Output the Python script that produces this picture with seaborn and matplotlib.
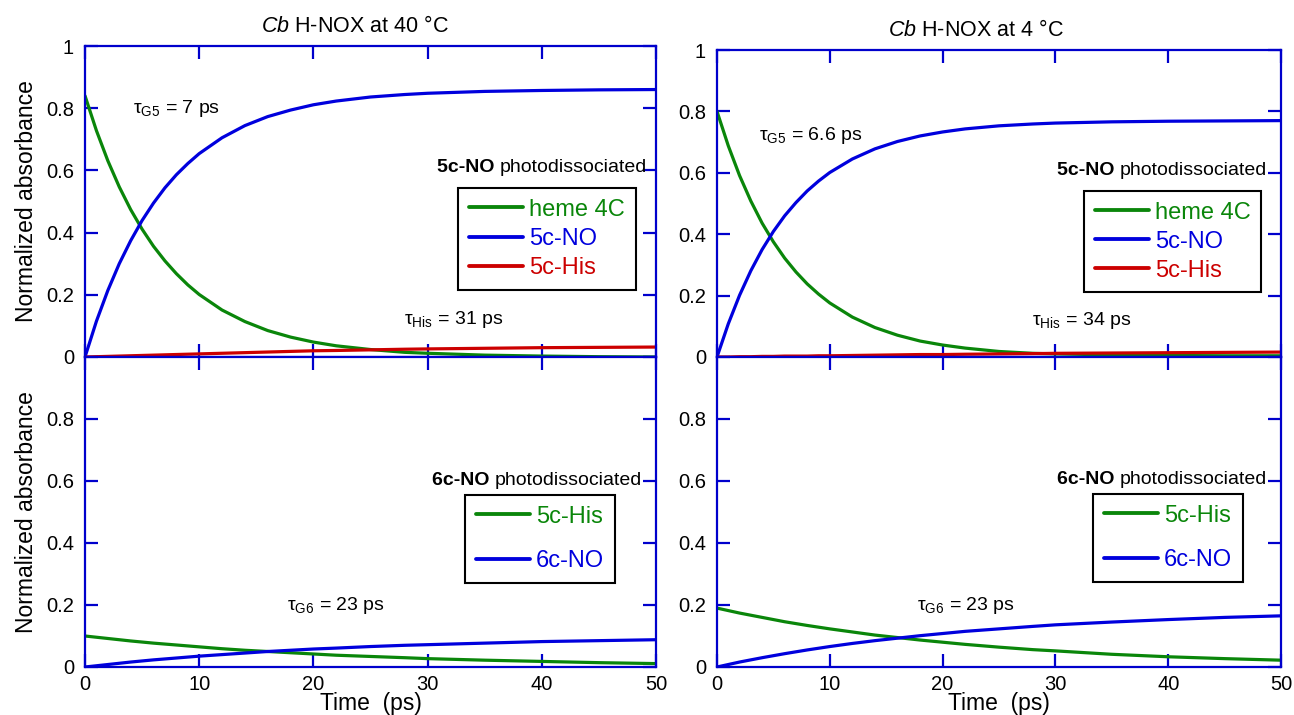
import numpy as np
import pandas as pd
import matplotlib
matplotlib.use("Agg")
import matplotlib.pyplot as plt
import seaborn as sns

# ---------------- data ----------------
t_top = [0, 1, 2, 3, 4, 5, 6, 7, 8, 9, 10, 12, 14, 16, 18, 20, 22, 25, 28, 30, 35, 40, 45, 50]

tl_heme4c = [0.840, 0.728, 0.631, 0.547, 0.474, 0.411, 0.356, 0.309, 0.268, 0.232, 0.201, 0.151,
             0.114, 0.085, 0.064, 0.048, 0.036, 0.024, 0.015, 0.012, 0.006, 0.003, 0.001, 0.000]
tl_5cno = [0.000, 0.115, 0.214, 0.300, 0.374, 0.439, 0.495, 0.544, 0.586, 0.622, 0.654, 0.705,
           0.744, 0.773, 0.794, 0.811, 0.823, 0.836, 0.844, 0.848, 0.854, 0.857, 0.859, 0.860]
tl_5chis = [0.000, 0.001, 0.002, 0.003, 0.004, 0.005, 0.006, 0.007, 0.008, 0.009, 0.010, 0.012,
            0.014, 0.016, 0.018, 0.020, 0.021, 0.023, 0.025, 0.026, 0.028, 0.030, 0.031, 0.032]

tr_heme4c = [0.800, 0.688, 0.591, 0.508, 0.436, 0.375, 0.322, 0.277, 0.238, 0.205, 0.176, 0.130,
             0.096, 0.071, 0.052, 0.039, 0.029, 0.018, 0.012, 0.010, 0.007, 0.005, 0.004, 0.004]
tr_5cno = [0.000, 0.108, 0.201, 0.281, 0.350, 0.409, 0.460, 0.503, 0.541, 0.573, 0.601, 0.645,
           0.678, 0.702, 0.720, 0.733, 0.743, 0.753, 0.759, 0.762, 0.766, 0.768, 0.769, 0.770]
tr_5chis = [0.000, 0.000, 0.001, 0.001, 0.002, 0.002, 0.003, 0.003, 0.003, 0.004, 0.004, 0.005,
            0.006, 0.007, 0.008, 0.008, 0.009, 0.010, 0.011, 0.012, 0.013, 0.014, 0.015, 0.016]

t_bot = [0, 2, 4, 6, 8, 10, 12, 14, 16, 18, 20, 22, 25, 28, 30, 35, 40, 45, 50]
bl_5chis = [0.100, 0.092, 0.084, 0.077, 0.071, 0.065, 0.059, 0.054, 0.050, 0.046, 0.042, 0.038,
            0.034, 0.030, 0.027, 0.022, 0.018, 0.014, 0.011]
bl_6cno = [0.000, 0.008, 0.016, 0.023, 0.029, 0.035, 0.040, 0.045, 0.050, 0.054, 0.058, 0.061,
           0.066, 0.070, 0.072, 0.077, 0.082, 0.085, 0.088]
br_5chis = [0.190, 0.174, 0.160, 0.146, 0.134, 0.123, 0.113, 0.103, 0.095, 0.087, 0.080, 0.073,
            0.064, 0.056, 0.052, 0.041, 0.033, 0.027, 0.022]
br_6cno = [0.000, 0.016, 0.030, 0.043, 0.055, 0.066, 0.076, 0.085, 0.093, 0.101, 0.108, 0.115,
           0.123, 0.131, 0.136, 0.145, 0.153, 0.160, 0.165]

x_ticks = [0, 10, 20, 30, 40, 50]
y_ticks = [0, 0.2, 0.4, 0.6, 0.8, 1.0]
y_ticklabels_top = ["0", "0.2", "0.4", "0.6", "0.8", "1"]
y_ticklabels_bot = ["0", "0.2", "0.4", "0.6", "0.8", ""]

titles = ["H-NOX at 40 °C", "H-NOX at 4 °C"]

# ---------------- style ----------------
sns.set_theme(style="white")
plt.rcParams['font.family'] = ['Liberation Sans', 'DejaVu Sans']
plt.rcParams['mathtext.fontset'] = 'custom'
plt.rcParams['mathtext.rm'] = 'Liberation Sans'
plt.rcParams['mathtext.it'] = 'Liberation Sans:italic'
plt.rcParams['mathtext.bf'] = 'Liberation Sans:bold'
plt.rcParams['text.color'] = 'black'
plt.rcParams['axes.labelcolor'] = 'black'
plt.rcParams['xtick.labelcolor'] = 'black'
plt.rcParams['ytick.labelcolor'] = 'black'

GREEN = '#0a860a'
BLUE = '#0000dd'
RED = '#cc0000'
AXBLUE = '#0000cc'
LW = 2.3

FS_TICK = 14.5
FS_ANN = 14
FS_LEG = 17
FS_LAB = 16.5
FS_TITLE = 15.5

W, H = 1294, 715
fig = plt.figure(figsize=(W / 100, H / 100), dpi=100)


def add_ax(l, r, t, b):
    return fig.add_axes([l / W, 1 - b / H, (r - l) / W, (b - t) / H])


ax_tl = add_ax(85, 656, 46, 357)
ax_bl = add_ax(85, 656, 357, 667)
ax_tr = add_ax(717, 1281, 50, 357)
ax_br = add_ax(717, 1281, 357, 667)


def style_ax(ax, bottom_panel):
    ax.set_xlim(0, 50)
    ax.set_ylim(0, 1)
    ax.set_xticks(x_ticks)
    ax.set_yticks(y_ticks)
    ax.set_yticklabels(y_ticklabels_bot if bottom_panel else y_ticklabels_top)
    for s in ax.spines.values():
        s.set_color(AXBLUE)
        s.set_linewidth(1.6)
        s.set_visible(True)
    ax.tick_params(axis='both', which='both', direction='in', length=9.5, width=1.6,
                   color=AXBLUE, labelcolor='black', labelsize=FS_TICK,
                   top=True, bottom=True, left=True, right=True)
    ax.tick_params(axis='y', pad=8)
    ax.tick_params(axis='x', pad=6)
    if not bottom_panel:
        ax.tick_params(axis='x', labelbottom=False)
    ax.set_xlabel("")
    ax.set_ylabel("")


def plot_series(ax, t, series):
    for y, c, lab in series:
        df = pd.DataFrame({"t": t, "v": y})
        sns.lineplot(data=df, x="t", y="v", color=c, lw=LW, ax=ax, label=lab, legend=False)


def make_legend(ax, anchor, labelspacing):
    leg = ax.legend(loc='upper left', bbox_to_anchor=anchor, bbox_transform=ax.transAxes,
                    fontsize=FS_LEG, labelcolor='linecolor', frameon=True, fancybox=False,
                    framealpha=1, edgecolor='black', handlelength=2.3, handletextpad=0.25,
                    borderpad=0.45, labelspacing=labelspacing, borderaxespad=0)
    leg.get_frame().set_linewidth(1.5)
    for line in leg.get_lines():
        line.set_linewidth(LW * 1.2)
    return leg


def label_text(ax, x, y, bold, rest):
    t = ax.text(x, y, rest, transform=ax.transAxes, ha='right', va='center', fontsize=FS_ANN)
    ax.annotate(bold + " ", xy=(0, 0.5), xycoords=t, ha='right', va='center',
                fontsize=FS_ANN, fontweight='bold')


def tau_text(ax, x, y, s):
    ax.text(x, y, s, transform=ax.transAxes, fontsize=FS_ANN, va='center')


# top-left
plot_series(ax_tl, t_top, [(tl_heme4c, GREEN, "heme 4C"), (tl_5cno, BLUE, "5c-NO"), (tl_5chis, RED, "5c-His")])
style_ax(ax_tl, False)
make_legend(ax_tl, (0.654, 0.543), 0.3)
label_text(ax_tl, 0.985, 0.608, "5c-NO", "photodissociated")
tau_text(ax_tl, 0.084, 0.80, r"τ$_{\rm G5}$ = 7 ps")
tau_text(ax_tl, 0.559, 0.119, r"τ$_{\rm His}$ = 31 ps")

# top-right
plot_series(ax_tr, t_top, [(tr_heme4c, GREEN, "heme 4C"), (tr_5cno, BLUE, "5c-NO"), (tr_5chis, RED, "5c-His")])
style_ax(ax_tr, False)
make_legend(ax_tr, (0.651, 0.541), 0.3)
label_text(ax_tr, 0.975, 0.606, "5c-NO", "photodissociated")
tau_text(ax_tr, 0.074, 0.723, r"τ$_{\rm G5}$ = 6.6 ps")
tau_text(ax_tr, 0.559, 0.12, r"τ$_{\rm His}$ = 34 ps")

# bottom-left
plot_series(ax_bl, t_bot, [(bl_5chis, GREEN, "5c-His"), (bl_6cno, BLUE, "6c-NO")])
style_ax(ax_bl, True)
make_legend(ax_bl, (0.666, 0.555), 0.95)
label_text(ax_bl, 0.975, 0.603, "6c-NO", "photodissociated")
tau_text(ax_bl, 0.354, 0.2, r"τ$_{\rm G6}$ = 23 ps")

# bottom-right
plot_series(ax_br, t_bot, [(br_5chis, GREEN, "5c-His"), (br_6cno, BLUE, "6c-NO")])
style_ax(ax_br, True)
make_legend(ax_br, (0.667, 0.558), 0.95)
label_text(ax_br, 0.975, 0.606, "6c-NO", "photodissociated")
tau_text(ax_br, 0.355, 0.2, r"τ$_{\rm G6}$ = 23 ps")

# axis labels
ax_tl.set_ylabel("Normalized absorbance", fontsize=FS_LAB, labelpad=6)
ax_bl.set_ylabel("Normalized absorbance", fontsize=FS_LAB, labelpad=6)
ax_bl.set_xlabel("Time  (ps)", fontsize=FS_LAB, labelpad=-2)
ax_br.set_xlabel("Time  (ps)", fontsize=FS_LAB, labelpad=-2)

# titles
fig.text(355 / W, 1 - 27 / H, r"$\mathit{Cb}$ " + titles[0], ha='center', va='center', fontsize=FS_TITLE)
fig.text(976 / W, 1 - 31 / H, r"$\mathit{Cb}$ " + titles[1], ha='center', va='center', fontsize=FS_TITLE)

fig.savefig("out.png", dpi=100)
